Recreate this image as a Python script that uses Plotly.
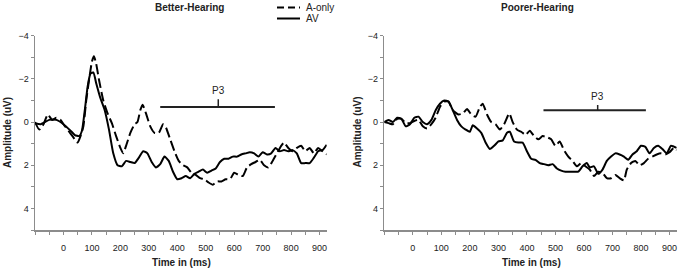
import plotly.graph_objects as go

# ---------------- data ----------------
bh_av_t = [-100,-80,-50,-25,0,25,40,55,65,75,85,95,105,115,130,145,160,175,190,205,220,235,250,265,280,295,310,325,340,355,370,385,400,415,430,445,460,475,490,505,520,535,550,565,580,595,610,625,640,655,670,685,700,715,730,745,760,775,790,805,820,835,850,865,880,895,910,925]
bh_av_v = [0.05,0.1,-0.1,-0.1,0.1,0.4,0.6,0.65,0.4,-0.55,-1.65,-2.25,-2.3,-1.8,-1.1,-0.55,0.35,1.45,2.0,2.05,1.8,1.85,1.9,1.65,1.35,1.45,1.85,2.1,1.95,1.6,1.8,2.3,2.65,2.6,2.5,2.6,2.4,2.3,2.2,2.35,2.25,2.15,1.85,1.7,1.7,1.6,1.6,1.5,1.45,1.4,1.45,1.6,1.4,1.5,1.45,1.2,1.35,1.3,1.35,1.3,1.45,1.9,1.9,1.9,1.65,1.35,1.3,1.05]

bh_a_t = [-100,-85,-70,-55,-40,-25,-10,0,20,40,50,60,70,80,90,100,107,115,125,140,155,170,185,200,210,220,235,250,260,270,278,290,305,320,335,350,360,375,390,405,420,435,450,465,480,495,510,525,540,555,570,585,600,615,630,645,660,675,690,705,720,735,750,765,775,790,805,820,835,850,865,880,895,910,925]
bh_a_v = [0.0,0.35,0.1,-0.35,-0.1,-0.2,-0.1,0.1,0.45,0.8,0.95,0.65,0.2,-1.0,-1.95,-2.8,-3.05,-2.7,-1.95,-1.0,-0.4,0.05,0.65,1.2,1.45,1.1,0.5,0.1,0.0,-0.55,-0.8,-0.4,0.2,0.5,0.5,0.1,0.25,0.8,1.35,1.8,2.0,2.1,2.35,2.45,2.6,2.65,2.8,2.9,2.75,2.75,2.65,2.65,2.35,2.45,2.5,2.1,1.95,1.85,1.75,2.0,2.1,1.8,1.45,1.1,0.95,1.2,1.35,1.2,1.1,1.35,1.2,1.45,1.2,1.35,1.5]

ph_av_t = [-100,-85,-70,-55,-40,-25,-10,5,20,35,50,65,80,95,110,125,140,155,170,185,200,210,225,240,255,270,285,300,315,330,340,355,370,385,400,415,430,445,460,475,490,505,520,535,550,565,580,595,610,620,635,650,665,680,695,710,725,740,755,770,785,800,815,830,845,860,875,890,905,925]
ph_av_v = [0.0,-0.1,0.0,-0.2,-0.15,0.2,0.1,-0.2,-0.25,0.0,0.1,-0.1,-0.55,-0.85,-1.0,-0.95,-0.55,-0.1,0.2,0.35,0.45,0.15,0.3,0.5,0.95,1.25,1.1,0.9,0.85,0.5,0.45,0.9,0.95,0.95,1.35,1.7,1.75,1.9,1.95,2.0,1.95,2.15,2.25,2.3,2.3,2.3,2.3,2.05,1.9,2.1,2.05,2.4,2.2,1.8,1.6,1.45,1.5,1.6,1.75,1.5,1.35,1.1,1.15,1.45,1.2,1.1,1.25,1.45,1.1,1.2]

ph_a_t = [-100,-85,-70,-55,-40,-25,-10,5,20,35,50,65,80,95,110,125,140,160,175,190,205,220,235,245,260,275,290,305,320,338,350,365,380,395,410,425,440,455,470,485,500,515,530,545,560,575,590,605,620,635,650,665,680,695,710,725,740,750,765,780,795,810,825,840,855,870,885,900,915,925]
ph_a_v = [0.0,0.05,0.1,-0.15,-0.15,0.05,0.05,-0.05,-0.1,0.2,0.3,0.1,-0.2,-0.7,-0.95,-0.95,-0.55,-0.35,-0.4,-0.6,-0.35,-0.25,-0.7,-0.85,-0.35,0.0,0.1,0.35,0.1,-0.4,0.0,0.35,0.45,0.6,0.4,0.65,0.8,0.65,0.7,0.8,1.1,0.9,1.3,1.6,1.8,2.05,1.9,2.05,2.2,2.5,2.3,2.35,2.6,2.6,2.45,2.6,2.7,2.2,1.9,1.8,2.0,1.9,1.7,1.6,1.5,1.45,1.5,1.4,1.2,1.3]

x_tick_vals = [0, 100, 200, 300, 400, 500, 600, 700, 800, 900]
y_tick_vals = [-4, -2, 0, 2, 4]
panel_titles = ["Better-Hearing", "Poorer-Hearing"]
series_names = ["A-only", "AV"]
x_title = "Time in (ms)"
y_title = "Amplitude (uV)"

# P3 window: (start, end, marker, level)
p3_left = (340, 743, 544, -0.7)
p3_right = (458, 817, 648, -0.55)

# ---------------- figure ----------------
FONT = "Liberation Sans, Arial, sans-serif"
W, H = 680, 271
AXC = "#8c8c8c"
TXT = "#222"
DASH = "10px,4px"

fig = go.Figure()

def add_pair(ta, va, tv, vv, xa, ya):
    fig.add_trace(go.Scatter(x=ta, y=va, mode="lines", name=series_names[0], showlegend=False,
                             line=dict(color="black", width=2, dash=DASH, shape="spline", smoothing=0.5),
                             xaxis=xa, yaxis=ya))
    fig.add_trace(go.Scatter(x=tv, y=vv, mode="lines", name=series_names[1], showlegend=False,
                             line=dict(color="black", width=2, shape="spline", smoothing=0.5),
                             xaxis=xa, yaxis=ya))

add_pair(bh_a_t, bh_a_v, bh_av_t, bh_av_v, "x", "y")
add_pair(ph_a_t, ph_a_v, ph_av_t, ph_av_v, "x2", "y2")

xd1 = [35 / W, 326.7 / W]
xd2 = [384.3 / W, 676.7 / W]
yd = [1 - 230 / H, 1 - 35.7 / H]

def xaxis(domain, anchor):
    return dict(domain=domain, anchor=anchor, range=[-100, 925], automargin=False,
                tickmode="array", tickvals=x_tick_vals, ticks="outside", ticklen=3,
                tickcolor=AXC, tickwidth=1, ticklabelstandoff=6,
                minor=dict(tickmode="linear", tick0=-100, dtick=50, ticks="outside", ticklen=3, tickcolor=AXC),
                showline=True, linecolor=AXC, linewidth=1.5, showgrid=False, zeroline=False,
                tickfont=dict(family=FONT, size=9, color=TXT))

def yaxis(domain, anchor):
    return dict(domain=domain, anchor=anchor, range=[5, -4], autorange=False, automargin=False,
                tickmode="array", tickvals=y_tick_vals, ticks="outside", ticklen=3,
                tickcolor=AXC, tickwidth=1,
                minor=dict(tickmode="linear", tick0=-4, dtick=1, ticks="outside", ticklen=3, tickcolor=AXC),
                showline=True, linecolor=AXC, linewidth=1.5, showgrid=False, zeroline=False,
                tickfont=dict(family=FONT, size=9, color=TXT))

fig.update_layout(
    width=W, height=H,
    margin=dict(l=0, r=0, t=0, b=0, autoexpand=False),
    paper_bgcolor="white", plot_bgcolor="white",
    xaxis=xaxis(xd1, "y"), yaxis=yaxis(yd, "x"),
    xaxis2=xaxis(xd2, "y2"), yaxis2=yaxis(yd, "x2"),
    showlegend=False,
    font=dict(family=FONT),
)

def ann(text, x, y, size=10, xanchor="center", **kw):
    fig.add_annotation(text=text, x=x / W, y=1 - y / H, xref="paper", yref="paper",
                       xanchor=xanchor, yanchor="middle",
                       showarrow=False, font=dict(family=FONT, size=size, color=TXT), **kw)

# panel titles
ann("<b>" + panel_titles[0] + "</b>", 189, 7.5)
ann("<b>" + panel_titles[1] + "</b>", 537, 7.5)
# axis titles
ann("<b>" + x_title + "</b>", 181, 262.5)
ann("<b>" + x_title + "</b>", 531, 262.5)
ann("<b>" + y_title + "</b>", 7.5, 132.5, textangle=-90)
ann("<b>" + y_title + "</b>", 357, 132.5, textangle=-90)

# legend (manual, top-right of left panel)
for i, nm in enumerate(series_names):
    yy = 7.5 + 11 * i
    fig.add_shape(type="line", xref="paper", yref="paper", x0=277 / W, x1=300 / W,
                  y0=1 - yy / H, y1=1 - yy / H,
                  line=dict(color="black", width=2, dash="7px,4px" if i == 0 else "solid"))
    ann(nm, 304, yy, xanchor="left")

def add_p3(p3, xr, yr, tick_h):
    s, e, m, lvl = p3
    fig.add_shape(type="line", x0=s, x1=e, y0=lvl, y1=lvl, xref=xr, yref=yr, line=dict(color=TXT, width=2))
    fig.add_shape(type="line", x0=m, x1=m, y0=lvl, y1=lvl - tick_h, xref=xr, yref=yr, line=dict(color=TXT, width=1.5))
    fig.add_annotation(text="P3", x=m, y=lvl - tick_h - 0.38, xref=xr, yref=yr, showarrow=False,
                       font=dict(family=FONT, size=10, color=TXT))

add_p3(p3_left, "x", "y", 0.36)
add_p3(p3_right, "x2", "y2", 0.24)

fig.write_html("out.html", config={"displayModeBar": False, "staticPlot": True},
               post_script="document.body.style.margin='0';document.body.style.padding='0';")
